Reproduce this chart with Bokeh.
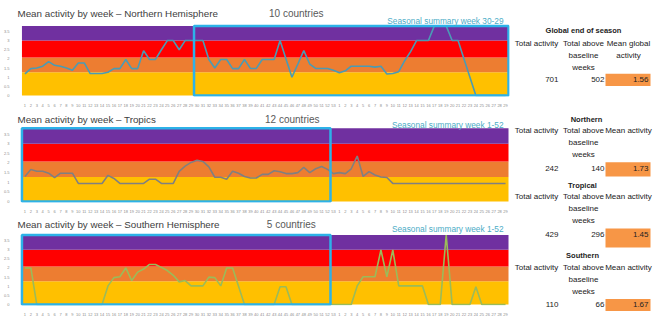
from bokeh.plotting import figure
from bokeh.models import Range1d, BoxAnnotation, Label, FixedTicker
from bokeh.layouts import row, column
from bokeh.embed import file_html
from bokeh.resources import INLINE
from bokeh.core.properties import value

# ---------------- data ----------------
weeks = list(range(1, 54)) + list(range(1, 30))   # 82 weekly categories

north = [1.18, 1.47, 1.5, 1.6, 1.85, 1.65, 1.6, 1.5, 1.38, 1.78,
         1.78, 1.2, 1.2, 1.2, 1.27, 1.47, 1.47, 1.97, 1.47, 1.47,
         2.45, 1.97, 1.97, 2.5, 3.0, 3.0, 2.5, 3.0, 3.0, 3.0,
         3.0, 1.97, 1.5, 1.97, 1.97, 1.47, 1.47, 1.97, 1.48, 1.48,
         1.97, 1.97, 1.97, 3.0, 2.0, 1.0, 1.72, 2.45, 1.72, 1.48,
         1.48, 1.48, 1.38, 1.25, 1.35, 1.6, 1.6, 1.6, 1.6, 1.55,
         1.6, 1.18, 1.2, 1.3, 1.9, 2.4, 3.0, 3.0, 3.0, 3.8,
         3.8, 3.8, 3.0, 3.0, 2.0, 1.0, 0, 0, 0, 0,
         0, 0]

tropics = [1.3, 1.66, 1.57, 1.57, 1.47, 1.24, 1.47, 1.47, 1.47, 0.94,
           0.94, 0.94, 0.94, 0.94, 1.36, 1.2, 0.94, 0.94, 0.94, 0.94,
           0.94, 1.16, 1.16, 0.94, 0.94, 0.94, 1.57, 1.84, 2.03, 2.14,
           2.08, 1.8, 1.26, 1.26, 1.16, 1.57, 1.47, 1.3, 1.22, 1.22,
           1.41, 1.41, 1.6, 1.55, 1.45, 1.45, 1.5, 1.77, 1.5, 1.7,
           1.82, 1.67, 1.45, 1.5, 1.45, 1.7, 2.36, 1.3, 1.55, 1.38,
           1.27, 1.25, 0.94, 0.94, 0.94, 0.94, 0.94, 0.94, 0.94, 0.94,
           0.94, 0.94, 0.94, 0.94, 0.94, 0.94, 0.94, 0.94, 0.94, 0.94,
           0.94, 0.94]

south = [2.0, 2.0, 0, 0, 0, 0, 0, 0, 0, 0,
         0, 0, 0, 0, 1.02, 1.47, 1.52, 2.0, 1.31, 1.77,
         1.94, 2.19, 2.19, 2.03, 1.86, 1.6, 1.24, 1.31, 1.02, 1.02,
         1.02, 1.5, 1.47, 1.02, 2.0, 2.0, 1.0, 0, 0, 0,
         0, 0, 0, 0.97, 0.97, 0, 0, 0, 0, 0,
         0, 0, 0, 0, 0, 0, 1.02, 1.52, 1.52, 1.52,
         2.98, 1.52, 2.98, 1.02, 1.02, 1.02, 1.02, 1.02, 0, 0,
         0, 3.8, 0, 0, 0, 0, 0.97, 0, 0, 0,
         0, 0]

series = [north, tropics, south]
titles = ["Mean activity by week \u2013 Northern Hemisphere",
          "Mean activity by week \u2013 Tropics",
          "Mean activity by week \u2013 Southern Hemisphere"]
country_counts = ["10 countries", "12 countries", "5 countries"]
season_labels = ["Seasonal summary week 30-29",
                 "Seasonal summary week 1-52",
                 "Seasonal summary week 1-52"]
season_spans = [(29, 81), (0, 51), (0, 51)]      # first / last week index in season

y_ticks = [0, 0.5, 1, 1.5, 2, 2.5, 3, 3.5]
y_tick_labels = ["0", "0.5", "1", "1.5", "2", "2.5", "3", "3.5"]
y_max = 3.8
band_edges = [0, 1.27, 2.08, 3.0, y_max]

table_groups = ["Global end of season", "Northern", "Tropical", "Southern"]
table_total = ["701", "242", "429", "110"]
table_above = ["502", "140", "296", "66"]
table_mean = ["1.56", "1.73", "1.45", "1.67"]
mean_headers = [["Mean global", "activity"], ["Mean activity"], ["Mean activity"], ["Mean activity"]]

# ---------------- style / layout ----------------
FONT = "Liberation Sans"
band_colors = ["#FFC000", "#ED7D31", "#FF0000", "#7030A0"]
line_colors = ["#4A9BB5", "#808080", "#9BBB59"]
season_color = "#2DB2E8"
season_text_color = "#4BACC6"
bar_color = "#F79646"

FIG_W, ML, MR, PADL, PADR, PADB = 510, 12, 1, 5.5, 1, 1
BAND_W = FIG_W - ML - MR - PADL - PADR
# (title area px, band area px, bottom border px) per chart
geo = [(27, 74, 7), (20, 78, 7), (21, 75, 6)]
title_off = [13.0, 9.0, 11.0]       # px above band top (text centre)
season_off = [5.0, 4.0, 6.0]
country_x = [294, 290, 289]          # page px
title_x = 13                          # page px
season_right = 503                    # page px
n = len(weeks)
ppx = BAND_W / n


def x_of(page_x):
    return -0.5 + (page_x - ML - PADL) / ppx


charts = []
for i in range(3):
    T, B, mb = geo[i]
    h = T + B + PADB + mb
    ppy = B / y_max
    p = figure(width=FIG_W, height=h, output_backend="svg", toolbar_location=None,
               x_range=Range1d(-0.5 - PADL / ppx, n - 0.5 + PADR / ppx),
               y_range=Range1d(-PADB / ppy, y_max + T / ppy),
               min_border_left=ML, min_border_right=MR, min_border_top=0, min_border_bottom=mb,
               title=None)
    p.outline_line_color = None
    p.grid.visible = False
    p.background_fill_color = "white"
    p.border_fill_color = "white"

    for k, c in enumerate(band_colors):
        p.add_layout(BoxAnnotation(left=-0.5, right=n - 0.5,
                                   bottom=band_edges[k], top=band_edges[k + 1],
                                   fill_color=c, fill_alpha=1, line_alpha=0, level="underlay"))

    p.line(x=list(range(n)), y=series[i], line_color=line_colors[i], line_width=1.6)

    s0, s1 = season_spans[i]
    p.add_layout(BoxAnnotation(left=s0 - 0.5, right=s1 + 0.5, bottom=0, top=y_max,
                               fill_alpha=0, line_color=season_color, line_alpha=1,
                               line_width=2.5))

    # axes
    p.yaxis.ticker = FixedTicker(ticks=y_ticks)
    p.yaxis.major_label_overrides = {t: l for t, l in zip(y_ticks, y_tick_labels)}
    p.xaxis.ticker = FixedTicker(ticks=list(range(n)))
    p.xaxis.major_label_overrides = {k: str(w) for k, w in enumerate(weeks)}
    for ax in (p.xaxis, p.yaxis):
        ax.axis_line_color = None
        ax.major_tick_line_color = None
        ax.minor_tick_line_color = None
        ax.major_label_text_font_size = "4px"
        ax.major_label_text_color = "#8C8C8C"
        ax.major_label_standoff = 1
        ax.major_label_text_font = FONT

    p.add_layout(Label(x=x_of(title_x), y=y_max + title_off[i] / ppy, text=titles[i],
                       text_font=FONT, text_font_size="9.8px", text_color="#404040",
                       text_baseline="middle", text_align="left"))
    p.add_layout(Label(x=x_of(country_x[i]), y=y_max + title_off[i] / ppy, text=country_counts[i],
                       text_font=FONT, text_font_size="10px", text_color="#595959",
                       text_baseline="middle", text_align="center"))
    p.add_layout(Label(x=x_of(season_right), y=y_max + season_off[i] / ppy, text=season_labels[i],
                       text_font=FONT, text_font_size="8.3px", text_color=season_text_color,
                       text_baseline="middle", text_align="right"))
    charts.append(p)

# ---------------- summary table ----------------
TW = 655 - FIG_W
TH = sum(g[0] + g[1] + PADB + g[2] for g in geo)
tp = figure(width=TW, height=TH, output_backend="svg", toolbar_location=None,
            x_range=Range1d(FIG_W, FIG_W + TW), y_range=Range1d(TH, 0),
            x_axis_location=None, y_axis_location=None, min_border=0, title=None)
tp.outline_line_color = None
tp.grid.visible = False

col_center = [536, 583, 628]
col_right = [558, 604, 648]
bar_lr = (605, 650)
group_x = [583, 586, 582, 582]
group_y = [30, 119, 185, 255]
hdr_y = [42.5, 130, 196, 266.7]
line_step = 12
val_y = [79.3, 168.3, 234, 304]
bar_tb = [(73.3, 85.5), (161.7, 176), (228, 247), (298.5, 310.5)]

tp.quad(left=[bar_lr[0]] * 4, right=[bar_lr[1]] * 4,
        top=[b[0] for b in bar_tb], bottom=[b[1] for b in bar_tb],
        fill_color=bar_color, line_color=None)

tp.text(x=group_x, y=group_y, text=table_groups, text_font=value(FONT),
        text_font_size="7.5px", text_font_style="bold", text_color="#222222",
        text_align="center", text_baseline="middle")

hx, hy, ht = [], [], []
for g in range(4):
    cols = [["Total activity"], ["Total above", "baseline", "weeks"], mean_headers[g]]
    for c, lines in enumerate(cols):
        for j, t in enumerate(lines):
            hx.append(col_center[c]); hy.append(hdr_y[g] + j * line_step); ht.append(t)
tp.text(x=hx, y=hy, text=ht, text_font=value(FONT), text_font_size="8px",
        text_color="#222222", text_align="center", text_baseline="middle")

vx, vy, vt = [], [], []
for g in range(4):
    for c, col in enumerate([table_total, table_above, table_mean]):
        vx.append(col_right[c]); vy.append(val_y[g]); vt.append(col[g])
tp.text(x=vx, y=vy, text=vt, text_font=value(FONT), text_font_size="8px",
        text_color="#222222", text_align="right", text_baseline="middle")

layout = row(column(*charts, spacing=0), tp, spacing=0)
open("out.html", "w").write(file_html(layout, INLINE))
